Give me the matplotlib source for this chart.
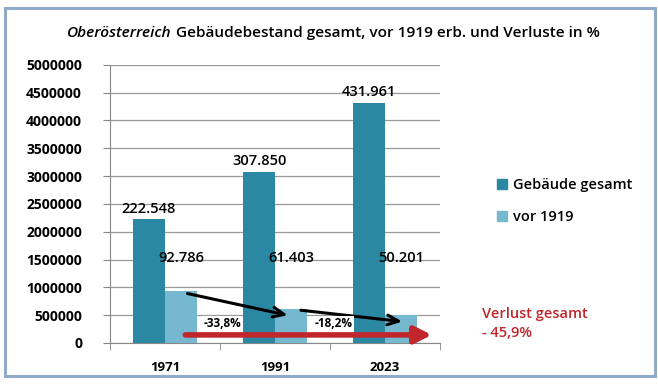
import numpy as np
import matplotlib.pyplot as plt
from matplotlib.patches import Rectangle, Patch

plt.rcParams['font.family'] = ['Open Sans', 'DejaVu Sans']

# data
years = ['1971', '1991', '2023']
gesamt = [2225480, 3078500, 4319610]
vor1919 = [927860, 614030, 502010]
gesamt_labels = ['222.548', '307.850', '431.961']
vor_labels = ['92.786', '61.403', '50.201']
verluste = ['-33,8%', '-18,2%']
yticks = np.arange(0, 5000001, 500000)

dark = '#2a88a3'
light = '#76b8d0'
red = '#c0262b'

fig = plt.figure(figsize=(6.58, 3.84), dpi=100)
ax = fig.add_axes([0.167, 0.107, 0.502, 0.724])

x = np.arange(len(years))
w = 0.29
ax.bar(x - w / 2, gesamt, w, color=dark, zorder=3)
ax.bar(x + w / 2, vor1919, w, color=light, zorder=3)

ax.set_xlim(-0.5, 2.5)
ax.set_ylim(0, 5000000)
ax.set_yticks(yticks)
ax.set_yticklabels([str(v) for v in yticks], fontsize=10, fontweight='bold')
ax.yaxis.grid(True, color='#999999', linewidth=0.9, zorder=0)
ax.set_xticks(x)
ax.set_xticklabels(years, fontsize=9.5, fontweight='bold')
ax.set_xticks([-0.5, 0.5, 1.5, 2.5], minor=True)
ax.tick_params(axis='x', which='major', length=0, pad=13)
ax.tick_params(axis='x', which='minor', length=5, color='#888888')
ax.tick_params(axis='y', length=5, color='#888888', pad=15)
for s in ['top', 'right']:
    ax.spines[s].set_visible(False)
for s in ['left', 'bottom']:
    ax.spines[s].set_color('#888888')

# value labels
for i in range(len(years)):
    ax.text(x[i] - w / 2, gesamt[i] + 60000, gesamt_labels[i], ha='center', va='bottom',
            fontsize=10.5, fontweight='semibold', zorder=5)
    ax.text(x[i] + 0.15, 1530000, vor_labels[i], ha='center', va='center',
            fontsize=10.5, fontweight='semibold', zorder=5)

# red total-loss arrow
ax.annotate('', xy=(2.45, 144000), xytext=(0.16, 144000),
            arrowprops=dict(arrowstyle='-|>,head_width=0.5,head_length=1.0',
                            color=red, lw=4), zorder=6)

# black arrows between the old-building bars
ax.annotate('', xy=(1.14, 486000), xytext=(0.18, 899000),
            arrowprops=dict(arrowstyle='->,head_width=0.35,head_length=0.8',
                            color='black', lw=2.2), zorder=6)
ax.annotate('', xy=(2.18, 378000), xytext=(1.21, 593000),
            arrowprops=dict(arrowstyle='->,head_width=0.35,head_length=0.8',
                            color='black', lw=2.2), zorder=6)

for xp, t in zip([0.52, 1.53], verluste):
    ax.text(xp, 342000, t, ha='center', va='center', fontsize=8.5, fontweight='bold',
            bbox=dict(facecolor='white', edgecolor='none', pad=1), zorder=7)

# title: italic part, then the rest, both scaled so the line spans 67..600 px
r = fig.canvas.get_renderer()
fs = 11.5
t1 = fig.text(67 / 658, 0.915, 'Oberösterreich', ha='left', va='center', fontsize=fs,
              fontweight='semibold', style='italic')
t2 = fig.text(0.5, 0.915, ' Gebäudebestand gesamt, vor 1919 erb. und Verluste in %',
              ha='left', va='center', fontsize=fs, fontweight='semibold')
total = t1.get_window_extent(r).width + t2.get_window_extent(r).width
fs = fs * 533 / total
t1.set_fontsize(fs)
t2.set_fontsize(fs)
t2.set_x(t1.get_window_extent(r).x1 / 658)

# legend
handles = [Patch(color=dark, label='Gebäude gesamt'), Patch(color=light, label='vor 1919')]
fig.legend(handles=handles, loc='upper left', bbox_to_anchor=(0.735, 0.57), frameon=False,
           prop={'size': 10.5, 'weight': 'semibold'}, handlelength=0.7, handleheight=0.7,
           handletextpad=0.4, labelspacing=1.2)

fig.text(0.733, 0.158, 'Verlust gesamt\n- 45,9%', ha='left', va='center', color=red,
         fontsize=10.5, fontweight='semibold', linespacing=1.45)

# outer frame
fig.patches.append(Rectangle((0.008, 0.02), 0.987, 0.958, transform=fig.transFigure,
                             fill=False, edgecolor='#8fabc9', linewidth=2.2))

fig.savefig('out.png', dpi=100)
